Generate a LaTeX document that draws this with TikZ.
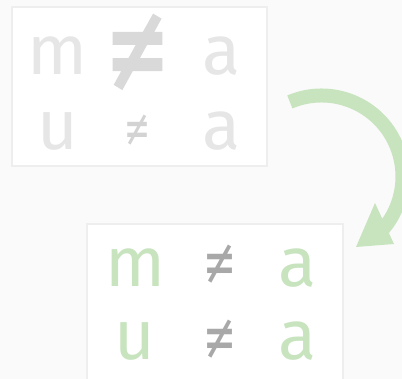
\documentclass[tikz,border=0pt]{standalone}
\usepackage{fontspec}
\setmainfont{Fira Sans}
\newfontfamily\heavyneq{Fira Sans}[FakeBold=2]
\definecolor{bgc}{HTML}{FAFAFA}
\definecolor{boxline}{HTML}{EEEEEE}
\definecolor{faint}{HTML}{E6E6E6}
\definecolor{bigne}{HTML}{D9D9D9}
\definecolor{smallne}{HTML}{D3D3D3}
\definecolor{softgreen}{HTML}{C8E4BF}
\definecolor{midgray}{HTML}{A8A8A8}
\begin{document}
\begin{tikzpicture}[x=1pt,y=1pt,
  panel/.style={draw=boxline,line width=2pt,fill=white},
  glyph/.style={inner sep=0pt,outer sep=0pt,anchor=base,font=\fontsize{70}{80}\selectfont},
  neq/.style={inner sep=0pt,outer sep=0pt,anchor=center,yscale=1.08,font=\fontsize{66}{72}\selectfont}]
\useasboundingbox (0,0) rectangle (402,-379);
\fill[bgc] (0,0) rectangle (402,-379);
% panels
\path[panel] (12,-7) rectangle (267,-166);
\path[panel] (87,-224) rectangle (343,-390);
% top panel
\node[glyph,text=faint] (tm) at (57.5,-75) {m};
\node[neq,text=bigne,font=\fontsize{126}{130}\selectfont\heavyneq] (tne) at (137.5,-56) {≠};
\node[glyph,text=faint] (ta) at (222,-75) {a};
\node[glyph,text=faint] (tu) at (57.5,-150) {u};
\node[neq,text=smallne,font=\fontsize{52}{60}\selectfont] (tne2) at (137.5,-131.5) {≠};
\node[glyph,text=faint] (ta2) at (222,-150) {a};
% bottom panel
\node[glyph,text=softgreen] (bm) at (135,-287) {m};
\node[neq,text=midgray] (bne) at (219.5,-266.5) {≠};
\node[glyph,text=softgreen] (ba) at (298,-287) {a};
\node[glyph,text=softgreen] (bu) at (135,-360) {u};
\node[neq,text=midgray] (bne2) at (219.5,-341) {≠};
\node[glyph,text=softgreen] (ba2) at (298,-360) {a};
% arrow
\draw[softgreen,line width=14pt] (321.5,-176.5) ++(113:81) arc[start angle=113,end angle=-40,radius=81];
\fill[softgreen] (375,-203) -- (394,-244) -- (356,-247) -- cycle;
\end{tikzpicture}
\end{document}
